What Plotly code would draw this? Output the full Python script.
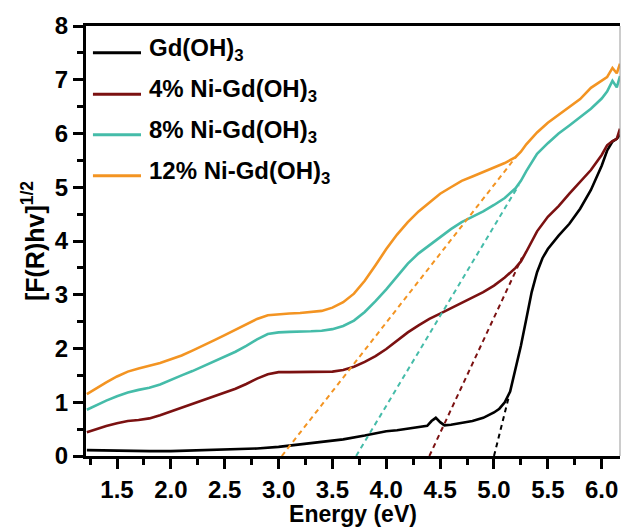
import plotly.graph_objects as go

# ---- data ----
names = ["Gd(OH)<sub>3</sub>", "4% Ni-Gd(OH)<sub>3</sub>",
         "8% Ni-Gd(OH)<sub>3</sub>", "12% Ni-Gd(OH)<sub>3</sub>"]
colors = ["#000000", "#7B1111", "#45BCA9", "#F39422"]

x_black = [1.22, 1.4, 1.6, 1.8, 2.0, 2.2, 2.4, 2.6, 2.8, 3.0, 3.2, 3.4, 3.6, 3.8, 3.9,
           4.0, 4.1, 4.2, 4.3, 4.38, 4.42, 4.46, 4.50, 4.54, 4.6, 4.7, 4.8, 4.9, 5.0,
           5.05, 5.1, 5.15, 5.2, 5.25, 5.3, 5.35, 5.4, 5.45, 5.5, 5.6, 5.7, 5.8, 5.9,
           6.0, 6.05, 6.1, 6.14, 6.17]
y_black = [0.11, 0.10, 0.10, 0.09, 0.09, 0.10, 0.11, 0.12, 0.14, 0.17, 0.22, 0.26, 0.31,
           0.38, 0.42, 0.46, 0.48, 0.51, 0.53, 0.56, 0.65, 0.71, 0.63, 0.57, 0.58, 0.61,
           0.65, 0.71, 0.81, 0.88, 1.00, 1.20, 1.60, 2.05, 2.55, 3.05, 3.42, 3.68, 3.85,
           4.10, 4.32, 4.60, 4.95, 5.40, 5.68, 5.85, 5.90, 5.98]

x_grid = [1.22, 1.3, 1.4, 1.5, 1.6, 1.7, 1.8, 1.9, 2.0, 2.1, 2.2, 2.3, 2.4, 2.5, 2.6,
          2.7, 2.8, 2.9, 3.0, 3.1, 3.2, 3.3, 3.4, 3.5, 3.6, 3.7, 3.8, 3.9, 4.0, 4.1,
          4.2, 4.3, 4.4, 4.5, 4.6, 4.7, 4.8, 4.9, 5.0, 5.1, 5.2, 5.25, 5.3, 5.4, 5.5,
          5.6, 5.7, 5.8, 5.9, 6.0, 6.05, 6.1, 6.14, 6.17]
y_ni4 = [0.44, 0.50, 0.56, 0.61, 0.65, 0.67, 0.70, 0.76, 0.83, 0.89, 0.96, 1.03, 1.10,
         1.17, 1.25, 1.34, 1.44, 1.52, 1.56, 1.56, 1.56, 1.56, 1.56, 1.57, 1.60, 1.66,
         1.75, 1.86, 1.99, 2.14, 2.30, 2.43, 2.55, 2.65, 2.75, 2.84, 2.94, 3.05, 3.17,
         3.32, 3.50, 3.62, 3.80, 4.18, 4.45, 4.65, 4.88, 5.10, 5.32, 5.60, 5.78, 5.86,
         5.90, 6.09]
y_ni8 = [0.86, 0.94, 1.03, 1.11, 1.18, 1.23, 1.27, 1.33, 1.42, 1.50, 1.58, 1.67, 1.75,
         1.84, 1.94, 2.05, 2.17, 2.27, 2.30, 2.31, 2.31, 2.32, 2.33, 2.36, 2.42, 2.52,
         2.68, 2.88, 3.10, 3.35, 3.58, 3.77, 3.92, 4.08, 4.22, 4.35, 4.45, 4.55, 4.67,
         4.80, 4.98, 5.12, 5.30, 5.62, 5.82, 6.00, 6.15, 6.30, 6.46, 6.65, 6.78, 6.98,
         6.86, 7.07]
y_ni12 = [1.15, 1.25, 1.37, 1.48, 1.57, 1.63, 1.68, 1.73, 1.80, 1.87, 1.96, 2.05, 2.15,
          2.25, 2.35, 2.45, 2.55, 2.62, 2.64, 2.65, 2.66, 2.68, 2.70, 2.76, 2.86, 3.02,
          3.26, 3.55, 3.85, 4.12, 4.35, 4.55, 4.72, 4.88, 5.00, 5.12, 5.20, 5.28, 5.37,
          5.45, 5.56, 5.66, 5.80, 6.02, 6.20, 6.35, 6.50, 6.64, 6.85, 6.98, 7.05, 7.22,
          7.12, 7.30]

# tangent (band-gap) fits: start on x axis, end point
fit_x0 = [5.00, 4.40, 3.72, 3.03]
fit_x1 = [5.14, 5.26, 5.23, 5.21]
fit_y1 = [1.12, 3.69, 5.04, 5.58]

x_ticks = [1.5, 2.0, 2.5, 3.0, 3.5, 4.0, 4.5, 5.0, 5.5, 6.0]
y_ticks = [0, 1, 2, 3, 4, 5, 6, 7, 8]

FONT = "Liberation Sans, Arial, sans-serif"

fig = go.Figure()
series = [(x_black, y_black), (x_grid, y_ni4), (x_grid, y_ni8), (x_grid, y_ni12)]
for (xs, ys), nm, c in zip(series, names, colors):
    fig.add_trace(go.Scatter(x=xs, y=ys, mode="lines", name=nm, showlegend=False,
                             line=dict(color=c, width=2.6)))

for x0, x1, y1, c in zip(fit_x0, fit_x1, fit_y1, colors):
    fig.add_trace(go.Scatter(x=[x0, x1], y=[0, y1], mode="lines", showlegend=False,
                             line=dict(color=c, width=2, dash="5px,4px")))

axis_common = dict(showline=True, linecolor="black", linewidth=3, ticks="outside",
                   tickwidth=2.5, ticklen=10, tickcolor="black", showgrid=False,
                   zeroline=False,
                   tickfont=dict(family=FONT, size=24, color="black", weight="bold"))

fig.update_xaxes(range=[1.212, 6.17], tickvals=x_ticks,
                 ticktext=[f"{v:.1f}" for v in x_ticks], mirror=True,
                 minor=dict(dtick=0.25, tick0=1.25, ticks="outside", ticklen=6,
                            tickwidth=2.5, tickcolor="black"),
                 title=dict(text="Energy (eV)", standoff=7,
                            font=dict(family=FONT, size=23, color="black", weight="bold")),
                 **axis_common)
fig.update_yaxes(range=[0, 8], tickvals=y_ticks,
                 minor=dict(dtick=0.5, tick0=0, ticks="outside", ticklen=6,
                            tickwidth=2.5, tickcolor="black"),
                 title=dict(text="[F(R)hv]<sup>1/2</sup>", standoff=4,
                            font=dict(family=FONT, size=25, color="black", weight="bold")),
                 **axis_common)

fig.add_shape(type="line", xref="paper", yref="paper", x0=1, x1=1, y0=0, y1=1,
              line=dict(color="#999999", width=1))

# manual legend (inside, top-left)
leg_y = [0.938, 0.841, 0.747, 0.652]
for nm, c, yy in zip(names, colors, leg_y):
    fig.add_shape(type="line", xref="paper", yref="paper", x0=0.013, x1=0.103,
                  y0=yy, y1=yy, line=dict(color=c, width=3))
    fig.add_annotation(xref="paper", yref="paper", x=0.114, y=yy + 0.008, text=nm,
                       showarrow=False, xanchor="left", yanchor="middle",
                       font=dict(family=FONT, size=24, color="black", weight="bold"))

fig.update_layout(
    width=621, height=527,
    margin=dict(l=86, r=1, t=26, b=67),
    paper_bgcolor="white", plot_bgcolor="white",
    showlegend=False,
)

fig.write_html("out.html")
